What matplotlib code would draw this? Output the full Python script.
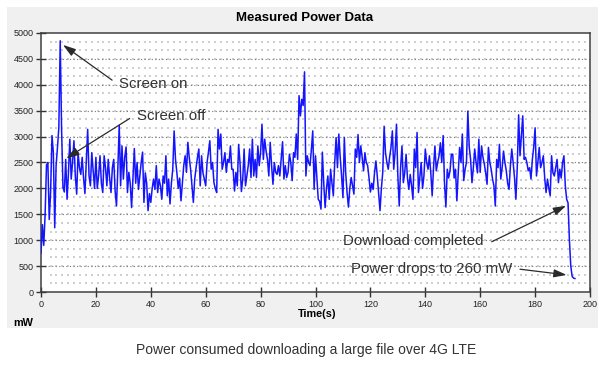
import numpy as np
import matplotlib
matplotlib.use("Agg")
import matplotlib.pyplot as plt
from matplotlib.patches import Rectangle

sample_step = 0.5
power_mw = [
    750, 1300, 900, 1500, 2450, 2500, 1400, 1930, 3020, 2690, 1240, 2440, 2790, 3180, 4850, 3140, 2020, 1930, 2560, 1790,
    2300, 2950, 2180, 2500, 2920, 2240, 1890, 2690, 2400, 2270, 2600, 2200, 1900, 2500, 3140, 2240, 2050, 2690, 2350, 2000,
    2600, 2000, 2250, 2630, 2100, 1920, 2630, 2400, 2050, 2560, 2200, 1920, 2400, 2560, 1950, 1660, 2400, 3220, 2050, 2820,
    2180, 2600, 2800, 1920, 2310, 2100, 1630, 2200, 2770, 2100, 2500, 1980, 2250, 2500, 2700, 1730, 2300, 2100, 1570, 1900,
    1730, 2000, 2180, 1980, 2440, 1920, 2180, 2050, 1790, 2240, 2100, 2630, 1860, 2180, 1700, 2100, 2370, 3110, 2560, 2300,
    2000, 2200, 1760, 2100, 2440, 2630, 2310, 2890, 2600, 2370, 2050, 1730, 2180, 2400, 2600, 2760, 2050, 2630, 2300, 2180,
    2050, 2500, 2700, 2920, 2370, 2500, 2110, 2000, 1920, 3140, 2760, 3050, 2370, 2500, 2690, 2310, 2560, 2500, 2820, 2370,
    2370, 1950, 2310, 2050, 2850, 2500, 1940, 2180, 2760, 2050, 2240, 2440, 2760, 2210, 2950, 2240, 2560, 2210, 2820, 2440,
    2700, 3240, 2560, 2950, 2720, 2560, 2240, 2890, 2440, 2080, 2500, 2310, 2270, 2440, 2240, 2560, 2900, 2180, 2440, 2210,
    2310, 2660, 2500, 2150, 2690, 2600, 3050, 2560, 3790, 3400, 3720, 3600, 4250, 2240, 2630, 2500, 2440, 2750, 3110, 1980,
    2630, 2200, 1790, 1750, 1600, 2700, 2100, 1630, 2000, 2240, 1790, 2370, 2100, 1860, 2500, 2980, 2400, 3050, 2600, 2240,
    1820, 2980, 2300, 1920, 1640, 2000, 2210, 2050, 1890, 2760, 2600, 3040, 2500, 2820, 2600, 2340, 2690, 2500, 2440, 2200,
    1930, 2100, 1980, 2300, 2530, 2240, 1900, 1570, 2000, 2310, 3200, 2690, 2500, 2370, 2600, 2790, 3110, 2370, 2700, 3240,
    2240, 1660, 2400, 2820, 2110, 2300, 2660, 2200, 1980, 2270, 2050, 1790, 2760, 2400, 3080, 1920, 2200, 2500, 2000, 2240,
    2760, 2500, 2370, 2630, 2300, 1860, 2400, 2820, 2340, 2500, 2630, 2880, 2500, 3020, 2100, 1640, 2370, 2200, 2340, 2660,
    2660, 2200, 2370, 1760, 2300, 2790, 2500, 3050, 2150, 2370, 2500, 3490, 2800, 2560, 2110, 2400, 2760, 2500, 2300, 2950,
    2310, 2820, 2600, 2470, 2300, 2080, 2790, 2500, 2370, 2180, 2050, 1660, 2560, 2400, 2850, 2180, 2400, 2720, 2500, 2340,
    2100, 1980, 2440, 2760, 2500, 2210, 1790, 2400, 3420, 2630, 3000, 3400, 2560, 2600, 2500, 2340, 2400, 2180, 2560, 2800,
    3170, 2240, 2500, 2790, 2400, 2500, 2630, 2200, 1920, 2180, 2000, 1860, 2630, 2300, 2240, 2400, 2560, 2110, 2370, 2200,
    2500, 2630, 2050, 1790, 1720, 1000, 500, 300, 270, 260,
]
x_ticks = list(range(0, 201, 20))
y_ticks = list(range(0, 5001, 500))

# (text, text position, arrow tail, arrow head) in data units
notes = [
    ("Screen on", (28.4, 4015), (25.9, 4090), (8.0, 4770)),
    ("Screen off", (35.0, 3400), (32.3, 3350), (9.2, 2580)),
    ("Download completed", (110.0, 985), (164.2, 970), (191.3, 1665)),
    ("Power drops to 260 mW", (112.9, 445), (174.5, 440), (191.5, 330)),
]

times = np.arange(len(power_mw)) * sample_step

W, H = 607, 365
fig = plt.figure(figsize=(W / 100, H / 100), dpi=100)
fig.patch.set_facecolor("white")
fig.patches.append(Rectangle((7 / W, 1 - 328 / H), 591 / W, 321 / H,
                             transform=fig.transFigure, facecolor="#f0f0f0",
                             edgecolor="none", zorder=-5))

ax = fig.add_axes([41 / W, 1 - 292 / H, 549 / W, 259 / H])
ax.set_zorder(2)
ax.set_facecolor("white")
ax.set_xlim(0, 200)
ax.set_ylim(0, 5000)

# dotted lattice behind the trace
gx, gy = np.meshgrid(np.arange(3.5, 200, 2.14), np.arange(500 / 3, 5000, 500 / 3))
ax.scatter(gx.ravel(), gy.ravel(), s=0.9, marker="s", color="#cfcfcf",
           linewidths=0, zorder=0)
for yv in y_ticks[1:-1]:
    ax.axhline(yv, color="#7a7a7a", lw=0.8, linestyle=(0, (1, 2.2)), zorder=1)

ax.plot(times, power_mw, color="#1414ff", lw=1.1, zorder=3)

ax.set_xticks(x_ticks)
ax.set_yticks(y_ticks)
ax.tick_params(direction="inout", length=7, width=1, color="#333333",
               labelsize=6.5, labelcolor="#222222", pad=2)
for lab in ax.get_xticklabels() + ax.get_yticklabels():
    lab.set_fontfamily("Liberation Sans")
for sp in ax.spines.values():
    sp.set_color("#404040")
    sp.set_linewidth(1.1)

for text, tpos, tail, head in notes:
    ax.annotate("", xy=head, xytext=tail,
                arrowprops=dict(arrowstyle="-|>,head_length=0.7,head_width=0.22",
                                color="#2a2a2a", lw=0.9, shrinkA=0, shrinkB=0,
                                mutation_scale=11), zorder=4)
    ax.text(tpos[0], tpos[1], text, fontsize=10.8, family="Liberation Sans",
            color="#333333", ha="left", va="center", zorder=5)

fig.text(305 / W, 1 - 18 / H, "Measured Power Data", fontsize=9.5,
         fontweight="bold", family="Liberation Sans", ha="center", va="center")
fig.text(317 / W, 1 - 314 / H, "Time(s)", fontsize=7.8, fontweight="bold",
         family="Liberation Sans", ha="center", va="center")
fig.text(13 / W, 1 - 323 / H, "mW", fontsize=7.8, fontweight="bold",
         family="Liberation Sans", ha="left", va="center")
fig.text(306 / W, 1 - 350 / H, "Power consumed downloading a large file over 4G LTE",
         fontsize=10, family="Liberation Sans", color="#333333",
         ha="center", va="center")

fig.savefig("out.png", dpi=100, facecolor=fig.get_facecolor())
